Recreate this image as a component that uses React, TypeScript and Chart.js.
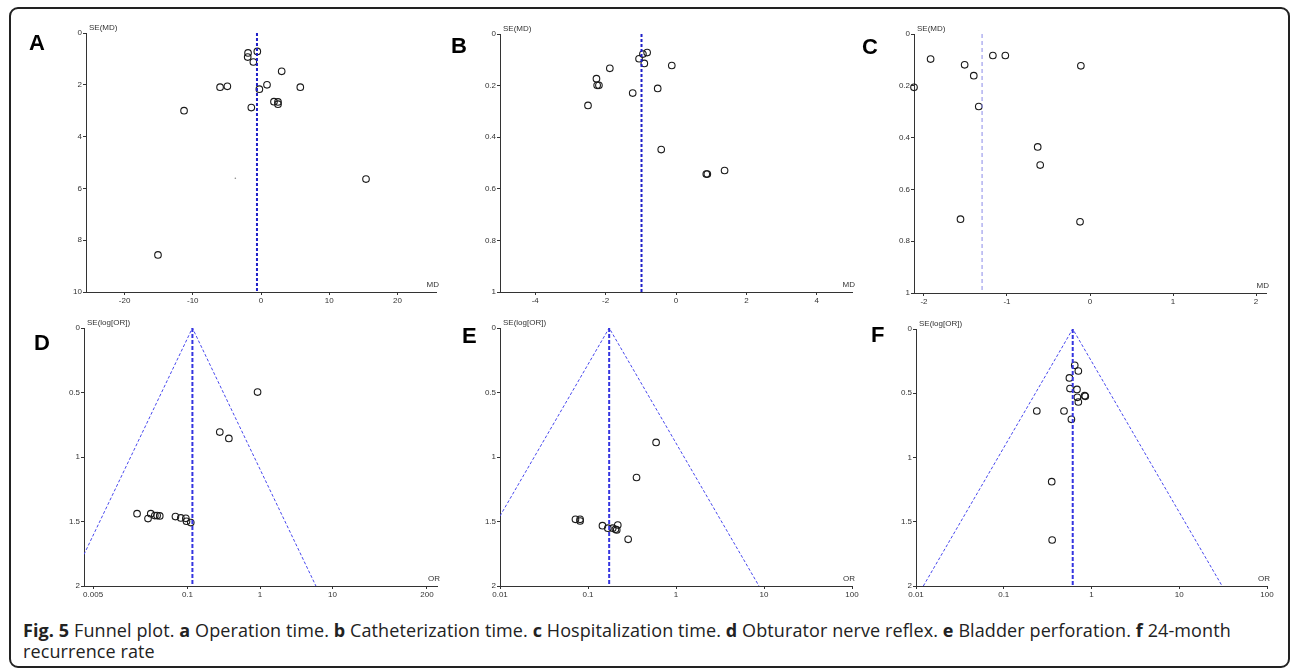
import React, { useEffect, useRef } from "react";
import { Chart, registerables } from "chart.js";
Chart.register(...registerables);

// ---------- Data ----------
// A: Operation time (MD vs SE(MD))
const aMD = [-0.54, -1.9, -1.95, -1.12, 3.03, 0.88, -6.0, -4.93, -0.24, 5.76, 1.9, 2.49, 2.49, -1.42, -11.28, 15.39, -15.1];
const aSE = [0.71, 0.77, 0.93, 1.12, 1.48, 2.0, 2.09, 2.06, 2.17, 2.09, 2.65, 2.66, 2.75, 2.88, 3.0, 5.64, 8.57];
const aPooled = -0.59;
const aStray = [{ x: -3.76, y: 5.61 }];

// B: Catheterization time
const bMD = [-0.82, -0.94, -1.05, -0.9, -0.12, -1.88, -2.26, -2.24, -2.19, -1.23, -0.52, -2.5, -0.42, 0.86, 0.89, 1.38];
const bSE = [0.072, 0.078, 0.096, 0.114, 0.122, 0.133, 0.173, 0.199, 0.199, 0.229, 0.211, 0.277, 0.448, 0.543, 0.543, 0.529];
const bPooled = -0.98;

// C: Hospitalization time
const cMD = [-1.92, -2.12, -1.51, -1.4, -1.34, -1.17, -1.02, -0.11, -0.63, -0.6, -1.56, -0.12];
const cSE = [0.097, 0.206, 0.119, 0.161, 0.28, 0.083, 0.083, 0.123, 0.436, 0.506, 0.715, 0.725];
const cPooled = -1.3;

// D: Obturator nerve reflex (OR vs SE(log[OR]))
const dOR = [0.925, 0.279, 0.372, 0.0202, 0.0286, 0.0312, 0.0355, 0.0382, 0.0415, 0.0683, 0.081, 0.0949, 0.097, 0.111];
const dSE = [0.497, 0.807, 0.856, 1.439, 1.477, 1.439, 1.454, 1.454, 1.457, 1.462, 1.472, 1.475, 1.498, 1.508];
const dPooled = 0.117;

// E: Bladder perforation
const eOR = [0.594, 0.356, 0.072, 0.0813, 0.0813, 0.146, 0.168, 0.191, 0.205, 0.218, 0.212, 0.286];
const eSE = [0.887, 1.159, 1.483, 1.483, 1.496, 1.532, 1.552, 1.552, 1.56, 1.527, 1.565, 1.638];
const ePooled = 0.174;

// F: 24-month recurrence rate
const fOR = [0.644, 0.708, 0.56, 0.569, 0.683, 0.835, 0.85, 0.69, 0.708, 0.238, 0.486, 0.59, 0.352, 0.356];
const fSE = [0.283, 0.327, 0.381, 0.464, 0.47, 0.519, 0.524, 0.532, 0.568, 0.638, 0.638, 0.703, 1.188, 1.642];
const fPooled = 0.611;

// Tick labels
const mdTicksA = [-20, -10, 0, 10, 20];
const mdTicksB = [-4, -2, 0, 2, 4];
const mdTicksC = [-2, -1, 0, 1, 2];
const seTicksA = [0, 2, 4, 6, 8, 10];
const seTicksBC = [0, 0.2, 0.4, 0.6, 0.8, 1];
const orTicksD = [0.005, 0.1, 1, 10, 200];
const orTicksEF = [0.01, 0.1, 1, 10, 100];
const seTicksOR = [0, 0.5, 1, 1.5, 2];

const captionLine1: [string, string][] = [
  ["b", "Fig. 5"], ["n", " Funnel plot. "], ["b", "a"], ["n", " Operation time. "], ["b", "b"],
  ["n", " Catheterization time. "], ["b", "c"], ["n", " Hospitalization time. "], ["b", "d"],
  ["n", " Obturator nerve reflex. "], ["b", "e"], ["n", " Bladder perforation. "], ["b", "f"], ["n", " 24-month"],
];
const captionLine2 = "recurrence rate";

// ---------- Layout ----------
type Panel = {
  letter: string; lx: number; ly: number;
  left: number; right: number; top: number; bottom: number;
  log: boolean; xMin: number; xMax: number; xTicks: number[];
  yMax: number; yTicks: number[];
  xs: number[]; ys: number[]; pooled: number;
  poolColor: string; poolWidth: number; poolDash: number[];
  funnel: boolean; yTitle: string; xTitle: string;
  extra?: { x: number; y: number }[];
};

const panels: Panel[] = [
  { letter: "A", lx: 29, ly: 32, left: 86, right: 436, top: 33, bottom: 292, log: false, xMin: -25.65, xMax: 25.65, xTicks: mdTicksA, yMax: 10, yTicks: seTicksA, xs: aMD, ys: aSE, pooled: aPooled, poolColor: "#1f1fc8", poolWidth: 2, poolDash: [3, 2], funnel: false, yTitle: "SE(MD)", xTitle: "MD", extra: aStray },
  { letter: "B", lx: 451, ly: 35, left: 500, right: 852, top: 34, bottom: 292, log: false, xMin: -5, xMax: 5, xTicks: mdTicksB, yMax: 1, yTicks: seTicksBC, xs: bMD, ys: bSE, pooled: bPooled, poolColor: "#1f1fc8", poolWidth: 2, poolDash: [3, 2], funnel: false, yTitle: "SE(MD)", xTitle: "MD" },
  { letter: "C", lx: 862, ly: 36, left: 914, right: 1266, top: 34, bottom: 293, log: false, xMin: -2.12, xMax: 2.12, xTicks: mdTicksC, yMax: 1, yTicks: seTicksBC, xs: cMD, ys: cSE, pooled: cPooled, poolColor: "#8a8ae8", poolWidth: 1, poolDash: [4, 3], funnel: false, yTitle: "SE(MD)", xTitle: "MD" },
  { letter: "D", lx: 34, ly: 332, left: 84, right: 437, top: 328, bottom: 586, log: true, xMin: 0.00375, xMax: 275, xTicks: orTicksD, yMax: 2, yTicks: seTicksOR, xs: dOR, ys: dSE, pooled: dPooled, poolColor: "#3535e0", poolWidth: 2, poolDash: [4, 2], funnel: true, yTitle: "SE(log[OR])", xTitle: "OR" },
  { letter: "E", lx: 462, ly: 325, left: 500, right: 852, top: 328, bottom: 586, log: true, xMin: 0.01, xMax: 100, xTicks: orTicksEF, yMax: 2, yTicks: seTicksOR, xs: eOR, ys: eSE, pooled: ePooled, poolColor: "#3535e0", poolWidth: 2, poolDash: [4, 2], funnel: true, yTitle: "SE(log[OR])", xTitle: "OR" },
  { letter: "F", lx: 871, ly: 324, left: 916, right: 1267, top: 329, bottom: 586, log: true, xMin: 0.01, xMax: 100, xTicks: orTicksEF, yMax: 2, yTicks: seTicksOR, xs: fOR, ys: fSE, pooled: fPooled, poolColor: "#3535e0", poolWidth: 2, poolDash: [4, 2], funnel: true, yTitle: "SE(log[OR])", xTitle: "OR" },
];

const PADL = 50, PADT = 20, PADR = 22, PADB = 26;
const TICK_FONT = { family: "'Liberation Sans', Arial, sans-serif", size: 8 };

function funnelPoints(p: Panel) {
  const c = Math.log(p.pooled);
  const k = 1.96;
  const lo = Math.log(p.xMin), hi = Math.log(p.xMax);
  const seL = (c - lo) / k;
  const seR = (hi - c) / k;
  const left = seL < p.yMax ? { x: p.xMin, y: seL } : { x: Math.exp(c - k * p.yMax), y: p.yMax };
  const right = seR < p.yMax ? { x: p.xMax, y: seR } : { x: Math.exp(c + k * p.yMax), y: p.yMax };
  return [left, { x: p.pooled, y: 0 }, right];
}

function FunnelPanel({ p }: { p: Panel }) {
  const ref = useRef<HTMLCanvasElement>(null);
  const w = p.right - p.left + PADL + PADR;
  const h = p.bottom - p.top + PADT + PADB;
  useEffect(() => {
    const datasets: any[] = [
      {
        data: [{ x: p.pooled, y: 0 }, { x: p.pooled, y: p.yMax }],
        showLine: true, borderColor: p.poolColor, borderWidth: p.poolWidth, borderDash: p.poolDash,
        pointRadius: 0, fill: false,
      },
    ];
    if (p.funnel) {
      datasets.push({
        data: funnelPoints(p), showLine: true, borderColor: "#4848ee", borderWidth: 1,
        borderDash: [3, 2], pointRadius: 0, fill: false, tension: 0,
      });
    }
    datasets.push({
      data: p.xs.map((x, i) => ({ x, y: p.ys[i] })),
      showLine: false, pointStyle: "circle", pointRadius: 3.3, borderColor: "#1a1a1a",
      borderWidth: 1.1, backgroundColor: "rgba(0,0,0,0)", clip: false,
    });
    if (p.extra) {
      datasets.push({
        data: p.extra, showLine: false, pointRadius: 0.8, borderWidth: 0, backgroundColor: "#888",
      });
    }
    const titles = {
      id: "axisTitles",
      afterDraw(chart: any) {
        const { ctx, chartArea } = chart;
        ctx.save();
        ctx.font = "8px 'Liberation Sans', Arial, sans-serif";
        ctx.fillStyle = "#333";
        ctx.textBaseline = "middle";
        ctx.textAlign = "left";
        ctx.fillText(p.yTitle, chartArea.left + 3, chartArea.top - 5);
        ctx.textAlign = "right";
        ctx.fillText(p.xTitle, chartArea.right + 3, chartArea.bottom - 7);
        ctx.restore();
      },
    };
    const axisCommon = {
      grid: { drawOnChartArea: false, drawTicks: true, tickLength: 3, color: "#333", lineWidth: 1 },
      border: { display: true, color: "#333", width: 1 },
      ticks: {
        font: TICK_FONT, color: "#333", padding: 1, maxRotation: 0, autoSkip: false,
        callback: (v: any) => String(v),
      },
    };
    const chart = new Chart(ref.current!, {
      type: "scatter",
      data: { datasets },
      options: {
        responsive: false,
        animation: false,
        events: [],
        layout: { padding: { left: 0, top: PADT, right: PADR, bottom: 0 }, autoPadding: false } as any,
        plugins: { legend: { display: false }, tooltip: { enabled: false } },
        scales: {
          x: {
            ...axisCommon,
            type: p.log ? "logarithmic" : "linear",
            position: "bottom",
            min: p.xMin, max: p.xMax,
            afterBuildTicks: (s: any) => { s.ticks = p.xTicks.map((v) => ({ value: v })); },
            afterFit: (s: any) => { s.height = PADB; },
          } as any,
          y: {
            ...axisCommon,
            type: "linear",
            position: "left",
            reverse: true,
            min: 0, max: p.yMax,
            afterBuildTicks: (s: any) => { s.ticks = p.yTicks.map((v) => ({ value: v })); },
            afterFit: (s: any) => { s.width = PADL; },
          } as any,
        },
      },
      plugins: [titles],
    });
    return () => chart.destroy();
  }, []);
  return (
    <canvas
      ref={ref}
      width={w}
      height={h}
      style={{ position: "absolute", left: p.left - PADL, top: p.top - PADT, width: w, height: h }}
    />
  );
}

export default function App() {
  return (
    <div style={{ position: "absolute", left: 0, top: 0, width: 1290, height: 668, background: "#fff", overflow: "hidden" }}>
      <div style={{ position: "absolute", left: 9, top: 7, width: 1281, height: 661, boxSizing: "border-box", border: "2px solid #222", borderRadius: 9 }} />
      {panels.map((p) => (
        <React.Fragment key={p.letter}>
          <FunnelPanel p={p} />
          <div style={{ position: "absolute", left: p.lx, top: p.ly, fontFamily: "'Liberation Sans', Arial, sans-serif", fontWeight: 700, fontSize: 22, lineHeight: "22px", color: "#000" }}>
            {p.letter}
          </div>
        </React.Fragment>
      ))}
      <div style={{ position: "absolute", left: 23, top: 620, fontFamily: "'Open Sans', sans-serif", fontSize: 18, letterSpacing: "0.1px", lineHeight: "21px", color: "#222", whiteSpace: "nowrap" }}>
        {captionLine1.map(([k, t], i) => (k === "b" ? <b key={i}>{t}</b> : <span key={i}>{t}</span>))}
        <br />
        {captionLine2}
      </div>
    </div>
  );
}
